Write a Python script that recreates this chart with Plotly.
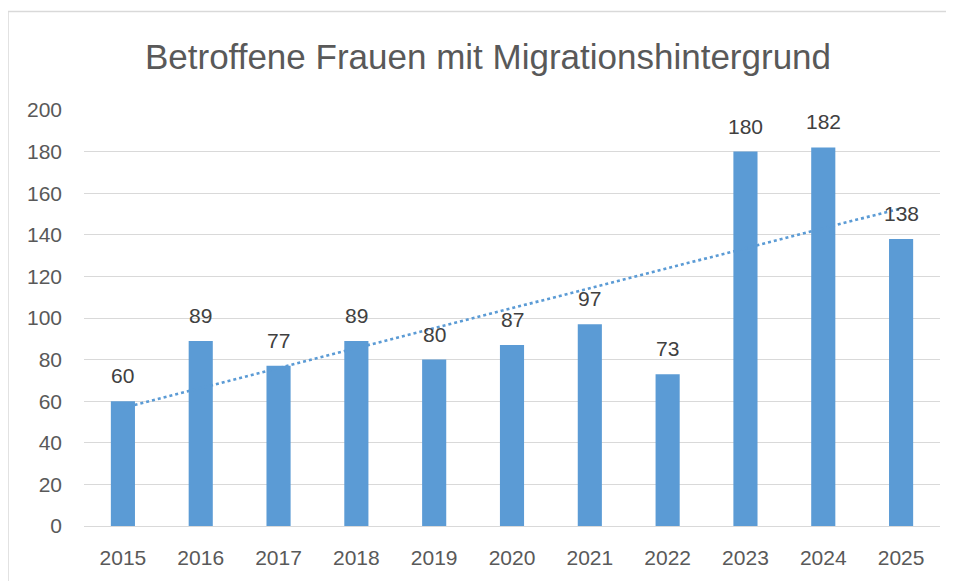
import numpy as np
import plotly.graph_objects as go

years = ["2015", "2016", "2017", "2018", "2019", "2020", "2021", "2022", "2023", "2024", "2025"]
values = [60, 89, 77, 89, 80, 87, 97, 73, 180, 182, 138]
title_text = "Betroffene Frauen mit Migrationshintergrund"
y_ticks = [0, 20, 40, 60, 80, 100, 120, 140, 160, 180, 200]

BAR = "#5B9BD5"
GRID = "#D9D9D9"
TXT = "#595959"
FONT = "Liberation Sans, Arial, sans-serif"

# linear trendline (least squares), as Excel draws it
idx = np.arange(len(values))
slope, intercept = np.polyfit(idx, values, 1)
trend = slope * idx + intercept

fig = go.Figure()
fig.add_trace(go.Bar(x=idx, y=values, marker_color=BAR, marker_line_width=0,
                     hovertext=years, showlegend=False))
fig.add_trace(go.Scatter(x=idx, y=trend, mode="lines",
                         line=dict(color=BAR, width=2.6, dash="dot"),
                         hoverinfo="skip", showlegend=False))

for i, v in zip(idx, values):
    fig.add_annotation(x=int(i), y=v, text=str(v), showarrow=False,
                       yanchor="bottom", yshift=12,
                       font=dict(family=FONT, size=21, color="#404040"))

# page body has an 8px margin: the figure starts at (8, 8) of the window
OFF = 8
W, H = 954 - OFF, 581 - OFF
L, R, T, B = 84 - OFF, 954 - 940, 110 - OFF, 581 - 526.5
pw, ph = W - L - R, H - T - B

def px_x(p):
    return (p - OFF - L) / pw

def px_y(p):
    return (H - B - (p - OFF)) / ph

# chart-area frame: only its top and left edges are inside the window
fig.add_shape(type="line", xref="paper", yref="paper",
              x0=px_x(8), x1=px_x(980), y0=px_y(11.5), y1=px_y(11.5),
              line=dict(color=GRID, width=1.5), layer="below")
fig.add_shape(type="line", xref="paper", yref="paper",
              x0=px_x(8), x1=px_x(8), y0=px_y(11.5), y1=px_y(600),
              line=dict(color=GRID, width=1.5), layer="below")

fig.update_layout(
    template="none",
    width=W, height=H,
    margin=dict(l=L, r=R, t=T, b=B, autoexpand=False),
    paper_bgcolor="white", plot_bgcolor="white",
    bargap=0.69,
    title=dict(text=title_text, x=px_x(488), xref="paper", xanchor="center",
               y=1 - (57 - OFF) / H, yanchor="middle",
               font=dict(family=FONT, size=35, color=TXT)),
    font=dict(family=FONT, color=TXT),
)
fig.update_xaxes(range=[-0.5, len(values) - 0.5], tickvals=idx, ticktext=years,
                 showgrid=False, showline=False, zeroline=False, automargin=False,
                 ticks="", tickfont=dict(family=FONT, size=21, color=TXT),
                 ticklabelstandoff=17)
fig.update_yaxes(range=[0, 200], tickvals=y_ticks, showgrid=True, gridcolor=GRID, gridwidth=1.4,
                 zeroline=True, zerolinecolor=GRID, zerolinewidth=1.4, showline=False,
                 automargin=False,
                 ticks="", tickfont=dict(family=FONT, size=21, color=TXT),
                 ticklabelstandoff=21)

fig.write_html("out.html")
